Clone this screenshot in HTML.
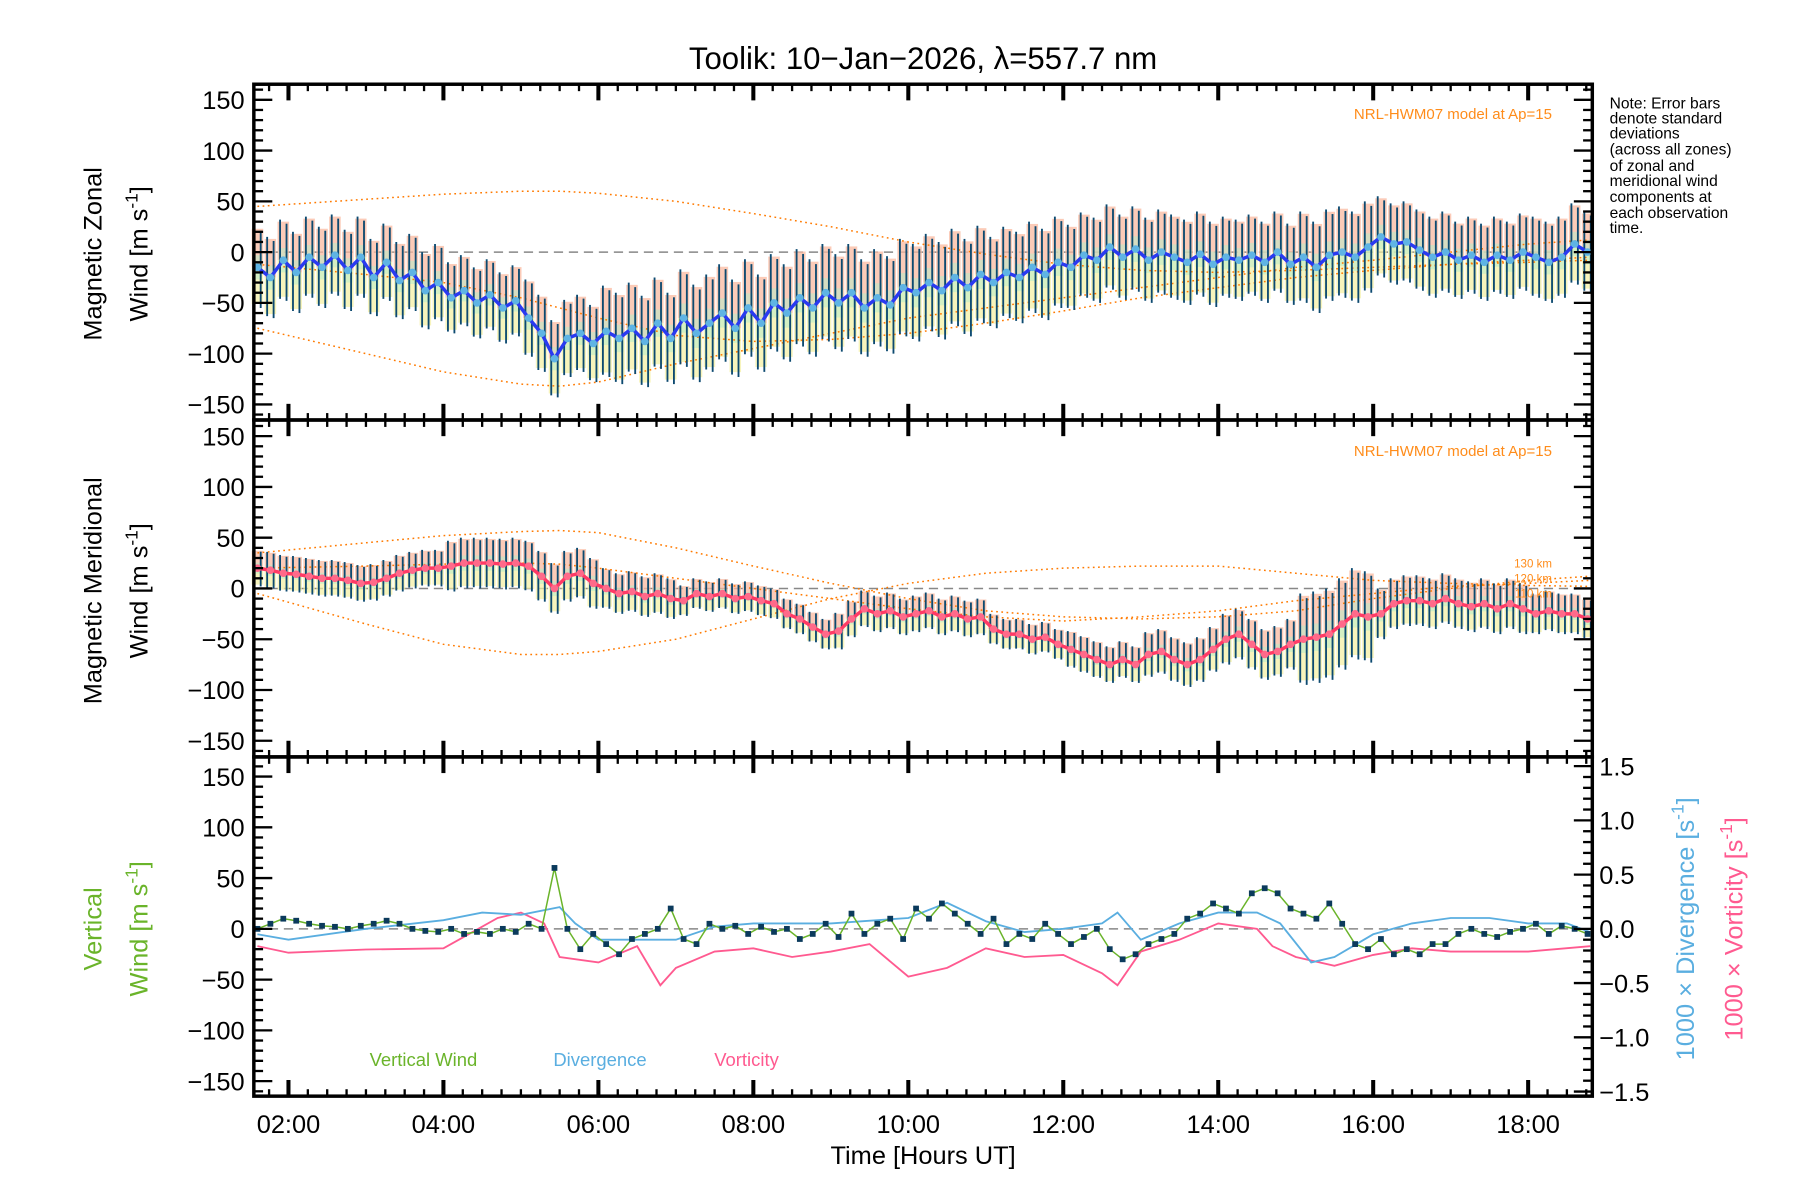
<!DOCTYPE html>
<html><head><meta charset="utf-8"><title>Toolik winds</title>
<style>
html,body{margin:0;padding:0;background:#fff;}
svg{display:block;font-family:"Liberation Sans",sans-serif;}
</style></head>
<body>
<svg id="chart" width="1800" height="1200" viewBox="0 0 1560 1040" xmlns="http://www.w3.org/2000/svg">
<text x="800" y="60" font-size="27" text-anchor="middle">Toolik: 10−Jan−2026, λ=557.7 nm</text>
<g id="layer-bands"></g>
<g id="layer-model"></g>
<g id="layer-err"></g>
<g id="layer-series"></g>
<g id="layer-axes"></g>

<text transform="translate(88,220) rotate(-90)" font-size="22" text-anchor="middle">Magnetic Zonal</text>
<text transform="translate(128,220) rotate(-90)" font-size="22" text-anchor="middle">Wind [m s<tspan dy="-9" font-size="15">-1</tspan><tspan dy="9">]</tspan></text>
<text transform="translate(88,512) rotate(-90)" font-size="22" text-anchor="middle">Magnetic Meridional</text>
<text transform="translate(128,512) rotate(-90)" font-size="22" text-anchor="middle">Wind [m s<tspan dy="-9" font-size="15">-1</tspan><tspan dy="9">]</tspan></text>
<text transform="translate(88,805) rotate(-90)" font-size="22" text-anchor="middle" fill="#6ab42a">Vertical</text>
<text transform="translate(128,805) rotate(-90)" font-size="22" text-anchor="middle" fill="#6ab42a">Wind [m s<tspan dy="-9" font-size="15">-1</tspan><tspan dy="9">]</tspan></text>
<text transform="translate(1468,805) rotate(-90)" font-size="22" text-anchor="middle" fill="#5aaee0">1000 × Divergence [s<tspan dy="-9" font-size="15">-1</tspan><tspan dy="9">]</tspan></text>
<text transform="translate(1510,805) rotate(-90)" font-size="22" text-anchor="middle" fill="#ff5a90">1000 × Vorticity [s<tspan dy="-9" font-size="15">-1</tspan><tspan dy="9">]</tspan></text>
<text x="800" y="1009" font-size="22" text-anchor="middle">Time [Hours UT]</text>

<text x="1345" y="103" font-size="13" text-anchor="end" fill="#ff8c1a">NRL-HWM07 model at Ap=15</text>
<text x="1345" y="395" font-size="13" text-anchor="end" fill="#ff8c1a">NRL-HWM07 model at Ap=15</text>
<text x="1345" y="492" font-size="10" text-anchor="end" fill="#ff8c1a">130 km</text>
<text x="1345" y="505" font-size="10" text-anchor="end" fill="#ff8c1a">120 km</text>
<text x="1345" y="518" font-size="10" text-anchor="end" fill="#ff8c1a">110 km</text>

<g font-size="13.5">
<text x="1395" y="94">Note: Error bars</text>
<text x="1395" y="107">denote standard</text>
<text x="1395" y="120">deviations</text>
<text x="1395" y="134">(across all zones)</text>
<text x="1395" y="148">of zonal and</text>
<text x="1395" y="161">meridional wind</text>
<text x="1395" y="175">components at</text>
<text x="1395" y="189">each observation</text>
<text x="1395" y="202">time.</text>
</g>

<text x="367" y="924" font-size="16" text-anchor="middle" fill="#6ab42a">Vertical Wind</text>
<text x="520" y="924" font-size="16" text-anchor="middle" fill="#5aaee0">Divergence</text>
<text x="647" y="924" font-size="16" text-anchor="middle" fill="#ff5a90">Vorticity</text>
</svg>
<script>
// ---- data (10-minute samples starting at 01:36 UT) ----
const t0 = 1.6;
const dt = 1/6;
const zonal = [-15,-25,-8,-20,-5,-15, -3,-18,-5,-25,-10,-28, -20,-38,-30,-45,-38,-50, -42,-55,-48,-65,-80,-105,
 -85,-80,-90,-78,-85,-75, -88,-70,-85,-65,-80,-70, -60,-75,-55,-70,-50,-60, -45,-55,-40,-50,-40,-55,
 -45,-52,-35,-40,-30,-38, -25,-35,-22,-30,-20,-25, -15,-22,-10,-15,-3,-8, 5,-5,3,-8,0,-5,
 -10,-2,-12,-5,-8,-3, -10,0,-12,-5,-15,-3, 0,-5,5,15,8,10, 2,-5,0,-8,-3,-10, -3,-8,0,-5,-10,-5, 8,0];
const meridional = [20,18,15,14,12,10, 10,8,5,6,10,15, 18,20,20,22,25,25, 25,24,25,22,12,0,
 12,15,5,0,-5,-3, -8,-5,-10,-12,-5,-8, -5,-10,-8,-12,-15,-25, -30,-38,-45,-42,-30,-20,
 -25,-22,-28,-25,-22,-28, -25,-30,-28,-40,-45,-45, -50,-48,-55,-60,-65,-70, -75,-70,-75,-65,-62,-70,
 -75,-70,-60,-50,-45,-55, -65,-62,-55,-50,-48,-45, -35,-25,-28,-25,-15,-12, -12,-15,-10,-15,-18,-15,
 -20,-15,-20,-25,-22,-25, -25,-30];
const vertical = [0,5,10,8,5,3, 2,0,3,5,8,5, 0,-2,-3,0,-5,-3, -5,0,-3,5,0,60,
 0,-20,-5,-15,-25,-10, -5,0,20,-10,-15,5, 0,3,-5,2,-3,0, -10,-5,5,-8,15,-5,
 5,10,-10,20,10,25, 15,5,-5,10,-15,-5, -10,5,-5,-15,-8,0, -20,-30,-25,-15,-10,-5,
 10,15,25,20,15,35, 40,35,20,15,10,25, 5,-15,-20,-10,-25,-20, -25,-15,-15,-5,0,-5,
 -8,-3,0,5,-5,3, 0,-5];
// hourly error half-widths (index = floor(hour)-1)
const errHours = [1,2,3,4,5,6,7,8,9,10,11,12,13,14,15,16,17,18];
const zonalErr = [40,40,38,35,38,45,48,48,48,48,45,42,42,40,45,40,38,40];
const meridErr = [18,18,18,25,25,20,15,15,18,18,15,18,22,25,45,25,25,20];
// divergence & vorticity (right axis units), irregular times
const dvTimes = [1.6,2,3,4,4.5,5,5.5,5.7,6,6.5,7,7.5,8,9,10,10.5,11,11.5,12,12.5,12.7,13,13.5,14,14.5,14.8,15.2,15.5,16,16.5,17,17.5,18,18.5,18.8];
const divergence = [-0.05,-0.1,0,0.08,0.15,0.13,0.2,0.05,-0.1,-0.1,-0.1,0.02,0.05,0.05,0.1,0.24,0.07,-0.03,0,0.05,0.15,-0.1,0.05,0.15,0.15,0.05,-0.31,-0.26,-0.05,0.05,0.1,0.1,0.05,0.05,-0.03];
const vortTimes = [1.6,2,3,4,4.2,4.7,5.0,5.3,5.5,6,6.5,6.8,7,7.5,8,8.5,9,9.5,10,10.5,11,11.5,12,12.5,12.7,13,13.5,14,14.5,14.7,15,15.5,16,16.5,17,18,18.8];
const vorticity = [-0.16,-0.22,-0.19,-0.18,-0.1,0.1,0.15,0.05,-0.26,-0.31,-0.16,-0.52,-0.36,-0.21,-0.18,-0.26,-0.21,-0.14,-0.44,-0.36,-0.18,-0.26,-0.24,-0.41,-0.52,-0.21,-0.1,0.05,0,-0.16,-0.26,-0.34,-0.24,-0.18,-0.21,-0.21,-0.16];
// model curves (hourly)
const modelHours = [1.6,3,4,5,5.5,6,7,8,9,10,11,12,13,14,15,16,17,18,18.8];
const zModelA = [45,52,57,60,60,58,50,38,25,10,-2,-12,-18,-20,-18,-15,-12,-10,-8];
const zModelB = [-12,-22,-30,-45,-55,-65,-82,-88,-86,-80,-70,-58,-45,-35,-25,-18,-12,-8,-5];
const zModelC = [-75,-100,-118,-130,-132,-128,-110,-95,-80,-65,-55,-45,-35,-25,-15,-8,0,8,12];
const mModelA = [35,45,52,56,57,55,40,22,5,-10,-22,-28,-30,-28,-22,-10,0,8,12];
const mModelB = [20,22,24,25,24,20,10,0,-10,-20,-28,-32,-28,-22,-12,-5,2,5,8];
const mModelC = [-5,-35,-55,-65,-65,-62,-50,-30,-10,5,15,20,22,22,15,8,5,3,2];
const xTickLabels = ["02:00","04:00","06:00","08:00","10:00","12:00","14:00","16:00","18:00"];
const xTickHours = [2,4,6,8,10,12,14,16,18];
const yTickVals = [-150,-100,-50,0,50,100,150];
const rTickVals = [-1.5,-1.0,-0.5,0.0,0.5,1.0,1.5];

// ---- scales ----
const L=220, R=1380;
const panels=[{top:73,bot:364,c:218.5},{top:364,bot:656,c:510},{top:656,bot:950,c:805}];
const ky=0.88;
function xs(h){return 250+(h-2)*67.15;}
function ys(p,v){return panels[p].c - v*ky;}
function yr(v){return 805 - v*94;}
const NS="http://www.w3.org/2000/svg";
function el(tag,attrs,parent){const e=document.createElementNS(NS,tag);for(const k in attrs)e.setAttribute(k,attrs[k]);parent.appendChild(e);return e;}
const gB=document.getElementById('layer-bands'),gM=document.getElementById('layer-model'),gE=document.getElementById('layer-err'),gS=document.getElementById('layer-series'),gA=document.getElementById('layer-axes');
function tOf(i){return t0+i*dt;}
function errAt(arr,h){let i=Math.min(errHours.length-1,Math.max(0,Math.floor(h)-1));return arr[i];}

// zero dashed lines
for(let p=0;p<3;p++){
  const z=el('line',{x1:L,x2:R,y1:ys(p,0),y2:ys(p,0),stroke:'#888','stroke-width':1.3,'stroke-dasharray':'8 5'},gB);
  
  
}

// bands + error bars for zonal/meridional
[[zonal,zonalErr,0],[meridional,meridErr,1]].forEach(([vals,errs,p])=>{
  vals.forEach((v,i)=>{
    const h=tOf(i), x=xs(h), e=errAt(errs,h);
    const w=10;
    const r1=el('rect',{x:x-w/2,y:ys(p,v+e*0.95),width:w,height:e*0.95*ky,fill:'#f9b9a0',opacity:0.75},gB);
    
    
    const r2=el('rect',{x:x-w/2,y:ys(p,v),width:w,height:e*0.9*ky,fill:'#f4f0a0',opacity:0.7},gB);
    
    
    const r3=el('rect',{x:x-w/2+1,y:ys(p,v+e*0.3),width:w-2,height:e*0.6*ky,fill:'#b8ecc8',opacity:0.55},gB);
    
    
    [-2.8,2.8].forEach(off=>{
      const b=el('line',{x1:x+off,x2:x+off,y1:ys(p,v+e*(off<0?1:0.9)),y2:ys(p,v-e*(off<0?0.95:1)),stroke:'#0d4a70','stroke-width':1.6},gE);
      
      
    });
  });
});

// model curves
[[zModelA,0],[zModelB,0],[zModelC,0],[mModelA,1],[mModelB,1],[mModelC,1]].forEach(([arr,p],k)=>{
  const d=arr.map((v,i)=>(i?'L':'M')+xs(modelHours[i]).toFixed(1)+','+ys(p,v).toFixed(1)).join(' ');
  const m=el('path',{d:d,fill:'none',stroke:'#ff7a00','stroke-width':1.3,'stroke-dasharray':'1.5 3'},gM);
  
  
});

// main series lines
function drawSeries(vals,p,color,mcolor,name){
  const d=vals.map((v,i)=>(i?'L':'M')+xs(tOf(i)).toFixed(1)+','+ys(p,v).toFixed(1)).join(' ');
  const l=el('path',{d:d,fill:'none',stroke:color,'stroke-width':3},gS);
  
  
  vals.forEach((v,i)=>{
    const c=el('circle',{cx:xs(tOf(i)),cy:ys(p,v),r:3.3,fill:mcolor},gS);
    
    
  });
}
drawSeries(zonal,0,'#2a3af0','#5fb4e4','zonal-wind');
drawSeries(meridional,1,'#ff3a66','#ff6a8a','meridional-wind');

// panel 3
function linePath(times,vals,fy){return vals.map((v,i)=>(i?'L':'M')+xs(times[i]).toFixed(1)+','+fy(v).toFixed(1)).join(' ');}
const vp=el('path',{d:linePath(vortTimes,vorticity,yr),fill:'none',stroke:'#ff5a90','stroke-width':1.6},gS);


const dp=el('path',{d:linePath(dvTimes,divergence,yr),fill:'none',stroke:'#5aaee0','stroke-width':1.6},gS);


const vt=vertical.map((v,i)=>tOf(i));
const wp=el('path',{d:linePath(vt,vertical,v=>ys(2,v)),fill:'none',stroke:'#6ab42a','stroke-width':1.3},gS);


vertical.forEach((v,i)=>{
  const s=el('rect',{x:xs(tOf(i))-2.5,y:ys(2,v)-2.5,width:5,height:5,fill:'#0b3a5c'},gS);
  
  
});

// axes
for(let p=0;p<3;p++){
  const P=panels[p];
  const f=el('rect',{x:L,y:P.top,width:R-L,height:P.bot-P.top,fill:'none',stroke:'#000','stroke-width':3},gA);
  
  
  for(let v=-160;v<=160;v+=10){
    const y=ys(p,v); if(y<P.top+1||y>P.bot-1)continue;
    const len=(v%50===0)?16:8;
    const t1=el('line',{x1:L,x2:L+len,y1:y,y2:y,stroke:'#000','stroke-width':2},gA);
    
    
    if(p<2){
      const t2=el('line',{x1:R-len,x2:R,y1:y,y2:y,stroke:'#000','stroke-width':2},gA);
      
      
    }
  }
  yTickVals.forEach(v=>{
    const tx=el('text',{x:212,y:ys(p,v)+8,'font-size':22,'text-anchor':'end'},gA);
    tx.textContent=(v<0?'−':'')+Math.abs(v);
    
    
  });
  for(let m=Math.ceil(1.56*4);m/4<=18.84;m++){
    const h=m/4, x=xs(h), major=(m%8===0);
    const len=major?14:6;
    const a=el('line',{x1:x,x2:x,y1:P.bot,y2:P.bot-len,stroke:'#000','stroke-width':major?3.5:2},gA);
    
    
    const b=el('line',{x1:x,x2:x,y1:P.top,y2:P.top+len,stroke:'#000','stroke-width':major?3.5:2},gA);
    
    
  }
}
for(let k=-15;k<=15;k++){
  const v=k/10, y=yr(v), len=(k%5===0)?16:8;
  if(y<657||y>949)continue;
  const t=el('line',{x1:R-len,x2:R,y1:y,y2:y,stroke:'#000','stroke-width':2},gA);
  
  
}
rTickVals.forEach(v=>{
  const tx=el('text',{x:1386,y:yr(v)+8,'font-size':22},gA);
  tx.textContent=(v<0?'−':'')+Math.abs(v).toFixed(1);
  
  
});
xTickHours.forEach((h,i)=>{
  const tx=el('text',{x:xs(h),y:982,'font-size':22,'text-anchor':'middle'},gA);
  tx.textContent=xTickLabels[i];
  
  
});
</script>
</body></html>
